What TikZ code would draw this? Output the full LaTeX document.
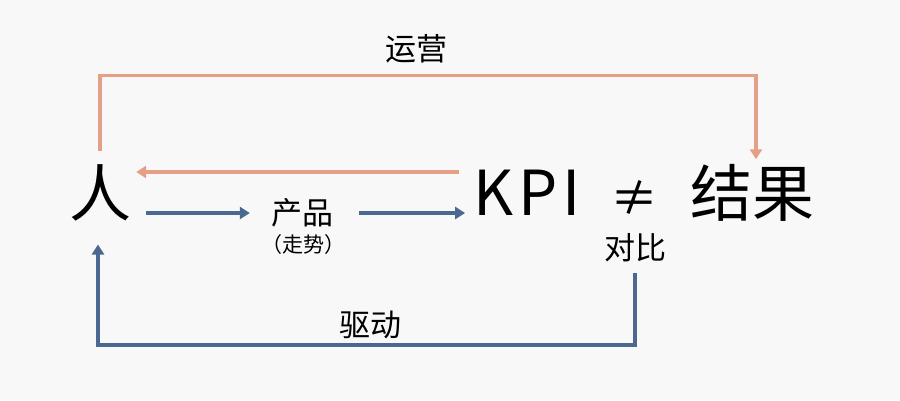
\documentclass[tikz,border=0pt]{standalone}
\usepackage{fontspec}
\setmainfont{Noto Sans CJK SC}
\usetikzlibrary{arrows.meta}
\definecolor{warmline}{HTML}{E4A087}
\definecolor{coolline}{HTML}{4A6890}
\definecolor{paper}{HTML}{F8F8F8}

\begin{document}
\begin{tikzpicture}[x=1pt, y=-1pt, every node/.style={inner sep=0pt},
  big/.style={font=\fontsize{62}{62}\selectfont},
  mid/.style={font=\fontsize{31}{31}\selectfont},
  small/.style={font=\fontsize{21}{21}\selectfont},
  warm/.style={draw=warmline, line width=3.5pt, -{Triangle[length=10pt,width=12pt]}},
  cool/.style={draw=coolline, line width=3.5pt, -{Triangle[length=10pt,width=12pt]}}]
  \fill[paper] (0,0) rectangle (900,400);
  % words
  \node[big] (ren) at (100,193) {人};
  \node[big] (kpi) at (527,193) {\addfontfeature{LetterSpace=8}KPI};
  \node[font=\fontsize{48}{48}\selectfont] (neq) at (634,198) {≠};
  \node[big] (jieguo) at (752,193) {结果};
  \node[mid] (chanpin) at (302,213) {产品};
  \node[small] (zoushi) at (303,245) {（走势）};
  \node[mid] (duibi) at (635,248) {对比};
  \node[mid] (yunying) at (416,49) {运营};
  \node[mid] (qudong) at (370,325) {驱动};
  % arrows
  \draw[warm] ([yshift=14pt]ren.north) |- ([yshift=-12pt]yunying.south) -| ([xshift=4pt,yshift=5pt]jieguo.north);
  \draw[warm] ([xshift=-14pt,yshift=21pt]kpi.west) -- ([xshift=5pt,yshift=21pt]ren.east);
  \draw[cool] ([xshift=15pt,yshift=-20pt]ren.east) -- ([xshift=-21pt]chanpin.west);
  \draw[cool] ([xshift=26pt]chanpin.east) -- ([xshift=-8pt]kpi.west |- chanpin.east);
  \draw[cool] ([yshift=-11pt]duibi.south) |- ([yshift=-6pt]qudong.south) -| ([xshift=-2pt,yshift=-23pt]ren.south);
\end{tikzpicture}
\end{document}
